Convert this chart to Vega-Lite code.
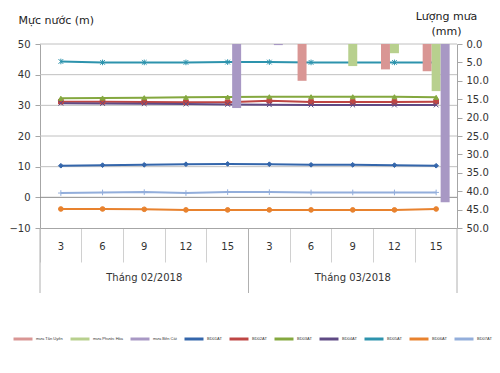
{
  "$schema": "https://vega.github.io/schema/vega-lite/v6.json",
  "width": 417,
  "height": 184,
  "autosize": {"type": "none"},
  "padding": {"left": 40, "top": 44, "right": 43, "bottom": 145},
  "background": "white",
  "config": {
    "view": {"stroke": null},
    "font": "DejaVu Sans",
    "axis": {"labelColor": "#333333", "titleColor": "#222222", "domainColor": "#a6a6a6", "tickColor": "#a6a6a6", "labelFont": "DejaVu Sans", "titleFont": "DejaVu Sans"}
  },
  "datasets": {
    "level": [
      {"key": "2018-02-03", "series": "BD01AT", "value": 10.3},
      {"key": "2018-02-06", "series": "BD01AT", "value": 10.5},
      {"key": "2018-02-09", "series": "BD01AT", "value": 10.6},
      {"key": "2018-02-12", "series": "BD01AT", "value": 10.8},
      {"key": "2018-02-15", "series": "BD01AT", "value": 10.9},
      {"key": "2018-03-03", "series": "BD01AT", "value": 10.8},
      {"key": "2018-03-06", "series": "BD01AT", "value": 10.6},
      {"key": "2018-03-09", "series": "BD01AT", "value": 10.6},
      {"key": "2018-03-12", "series": "BD01AT", "value": 10.5},
      {"key": "2018-03-15", "series": "BD01AT", "value": 10.3},
      {"key": "2018-02-03", "series": "BD02AT", "value": 31.2},
      {"key": "2018-02-06", "series": "BD02AT", "value": 31.2},
      {"key": "2018-02-09", "series": "BD02AT", "value": 31.1},
      {"key": "2018-02-12", "series": "BD02AT", "value": 31.0},
      {"key": "2018-02-15", "series": "BD02AT", "value": 31.0},
      {"key": "2018-03-03", "series": "BD02AT", "value": 31.5},
      {"key": "2018-03-06", "series": "BD02AT", "value": 31.1},
      {"key": "2018-03-09", "series": "BD02AT", "value": 31.1},
      {"key": "2018-03-12", "series": "BD02AT", "value": 31.1},
      {"key": "2018-03-15", "series": "BD02AT", "value": 31.2},
      {"key": "2018-02-03", "series": "BD03AT", "value": 32.3},
      {"key": "2018-02-06", "series": "BD03AT", "value": 32.4},
      {"key": "2018-02-09", "series": "BD03AT", "value": 32.5},
      {"key": "2018-02-12", "series": "BD03AT", "value": 32.6},
      {"key": "2018-02-15", "series": "BD03AT", "value": 32.7},
      {"key": "2018-03-03", "series": "BD03AT", "value": 32.8},
      {"key": "2018-03-06", "series": "BD03AT", "value": 32.8},
      {"key": "2018-03-09", "series": "BD03AT", "value": 32.8},
      {"key": "2018-03-12", "series": "BD03AT", "value": 32.8},
      {"key": "2018-03-15", "series": "BD03AT", "value": 32.6},
      {"key": "2018-02-03", "series": "BD04AT", "value": 30.7},
      {"key": "2018-02-06", "series": "BD04AT", "value": 30.6},
      {"key": "2018-02-09", "series": "BD04AT", "value": 30.5},
      {"key": "2018-02-12", "series": "BD04AT", "value": 30.4},
      {"key": "2018-02-15", "series": "BD04AT", "value": 30.3},
      {"key": "2018-03-03", "series": "BD04AT", "value": 30.2},
      {"key": "2018-03-06", "series": "BD04AT", "value": 30.1},
      {"key": "2018-03-09", "series": "BD04AT", "value": 30.1},
      {"key": "2018-03-12", "series": "BD04AT", "value": 30.1},
      {"key": "2018-03-15", "series": "BD04AT", "value": 30.1},
      {"key": "2018-02-03", "series": "BD05AT", "value": 44.3},
      {"key": "2018-02-06", "series": "BD05AT", "value": 44.0},
      {"key": "2018-02-09", "series": "BD05AT", "value": 44.0},
      {"key": "2018-02-12", "series": "BD05AT", "value": 44.0},
      {"key": "2018-02-15", "series": "BD05AT", "value": 44.1},
      {"key": "2018-03-03", "series": "BD05AT", "value": 44.1},
      {"key": "2018-03-06", "series": "BD05AT", "value": 44.0},
      {"key": "2018-03-09", "series": "BD05AT", "value": 44.0},
      {"key": "2018-03-12", "series": "BD05AT", "value": 44.0},
      {"key": "2018-03-15", "series": "BD05AT", "value": 44.0},
      {"key": "2018-02-03", "series": "BD06AT", "value": -3.8},
      {"key": "2018-02-06", "series": "BD06AT", "value": -3.8},
      {"key": "2018-02-09", "series": "BD06AT", "value": -3.9},
      {"key": "2018-02-12", "series": "BD06AT", "value": -4.1},
      {"key": "2018-02-15", "series": "BD06AT", "value": -4.1},
      {"key": "2018-03-03", "series": "BD06AT", "value": -4.1},
      {"key": "2018-03-06", "series": "BD06AT", "value": -4.1},
      {"key": "2018-03-09", "series": "BD06AT", "value": -4.1},
      {"key": "2018-03-12", "series": "BD06AT", "value": -4.1},
      {"key": "2018-03-15", "series": "BD06AT", "value": -3.8},
      {"key": "2018-02-03", "series": "BD07AT", "value": 1.4},
      {"key": "2018-02-06", "series": "BD07AT", "value": 1.6},
      {"key": "2018-02-09", "series": "BD07AT", "value": 1.7},
      {"key": "2018-02-12", "series": "BD07AT", "value": 1.4},
      {"key": "2018-02-15", "series": "BD07AT", "value": 1.7},
      {"key": "2018-03-03", "series": "BD07AT", "value": 1.7},
      {"key": "2018-03-06", "series": "BD07AT", "value": 1.6},
      {"key": "2018-03-09", "series": "BD07AT", "value": 1.6},
      {"key": "2018-03-12", "series": "BD07AT", "value": 1.6},
      {"key": "2018-03-15", "series": "BD07AT", "value": 1.6}
    ],
    "rain": [
      {"key": "2018-02-15", "series": "mưa Bến Cát", "mm": 17.4},
      {"key": "2018-03-03", "series": "mưa Bến Cát", "mm": 0.3},
      {"key": "2018-03-06", "series": "mưa Tân Uyên", "mm": 10.0},
      {"key": "2018-03-09", "series": "mưa Phước Hòa", "mm": 6.0},
      {"key": "2018-03-12", "series": "mưa Tân Uyên", "mm": 6.9},
      {"key": "2018-03-12", "series": "mưa Phước Hòa", "mm": 2.5},
      {"key": "2018-03-15", "series": "mưa Tân Uyên", "mm": 7.4},
      {"key": "2018-03-15", "series": "mưa Phước Hòa", "mm": 12.8},
      {"key": "2018-03-15", "series": "mưa Bến Cát", "mm": 43.0}
    ],
    "gridLevels": [{"v": 0}, {"v": 10}, {"v": 20}, {"v": 30}, {"v": 40}, {"v": 50}],
    "edgesLeft": [{"key": "2018-02-03"}, {"key": "2018-03-03"}],
    "edgesRight": [{"key": "2018-03-15"}]
  },
  "layer": [
    {
      "layer": [
        {
          "data": {"name": "gridLevels"},
          "mark": {"type": "rule", "strokeWidth": 1},
          "encoding": {
            "y": {"field": "v", "type": "quantitative"},
            "color": {"condition": {"test": "datum.v === 0", "value": "#8c8c8c"}, "value": "#c0c0c0"}
          }
        },
        {
          "data": {"name": "level"},
          "mark": {"type": "line", "strokeWidth": 2},
          "encoding": {
            "x": {
              "field": "key", "type": "ordinal",
              "scale": {"type": "band", "paddingInner": 0, "paddingOuter": 0},
              "axis": {
                "title": null, "orient": "bottom",
                "bandPosition": 0, "tickSize": 34, "tickColor": "#d0d0d0",
                "domainColor": "#a6a6a6",
                "labelAngle": 0, "labelFontSize": 10, "labelPadding": -21,
                "labelLineHeight": 31, "labelBaseline": "top", "labelOverlap": false,
                "labelExpr": "datum.value == '2018-02-09' ? ['9', 'Tháng 02/2018'] : datum.value == '2018-03-09' ? ['9', 'Tháng 03/2018'] : '' + toNumber(slice(datum.value, 8))"
              }
            },
            "y": {
              "field": "value", "type": "quantitative",
              "scale": {"domain": [-10, 50], "nice": false, "zero": false},
              "axis": {
                "values": [-10, 0, 10, 20, 30, 40, 50], "tickCount": 7,
                "grid": false, "labelOverlap": false,
                "tickSize": 5, "labelPadding": 5, "labelFontSize": 10,
                "title": "Mực nước (m)", "titleAngle": 0, "titleAlign": "left",
                "titleBaseline": "middle", "titleX": -22, "titleY": -24,
                "titleFontSize": 11, "titleFontWeight": "normal"
              }
            },
            "color": {
              "field": "series", "type": "nominal",
              "scale": {
                "domain": ["mưa Tân Uyên", "mưa Phước Hòa", "mưa Bến Cát", "BD01AT", "BD02AT", "BD03AT", "BD04AT", "BD05AT", "BD06AT", "BD07AT"],
                "range": ["#d99694", "#b8d08e", "#a898c4", "#3466ab", "#be4644", "#84a83f", "#5f4a84", "#2d93ad", "#e8822e", "#93aedb"]
              },
              "legend": {
                "orient": "none", "legendX": -28, "legendY": 284,
                "direction": "horizontal", "title": null,
                "symbolType": "stroke", "symbolSize": 361, "symbolStrokeWidth": 3,
                "labelFont": "Liberation Sans", "labelFontSize": 4, "labelColor": "#333333", "labelOffset": 2,
                "columnPadding": 1, "padding": 0
              }
            }
          }
        },
        {
          "data": {"name": "level"},
          "mark": {"type": "point", "filled": true, "size": 22, "strokeWidth": 1, "opacity": 1},
          "encoding": {
            "x": {"field": "key", "type": "ordinal"},
            "y": {"field": "value", "type": "quantitative", "scale": {"domain": [-10, 50], "nice": false, "zero": false}},
            "color": {"field": "series", "type": "nominal", "legend": null},
            "stroke": {"field": "series", "type": "nominal", "scale": {
                "domain": ["mưa Tân Uyên", "mưa Phước Hòa", "mưa Bến Cát", "BD01AT", "BD02AT", "BD03AT", "BD04AT", "BD05AT", "BD06AT", "BD07AT"],
                "range": ["#d99694", "#b8d08e", "#a898c4", "#3466ab", "#be4644", "#84a83f", "#5f4a84", "#2d93ad", "#e8822e", "#93aedb"]
              }, "legend": null},
            "shape": {
              "field": "series", "type": "nominal", "legend": null,
              "scale": {
                "domain": ["BD01AT", "BD02AT", "BD03AT", "BD04AT", "BD05AT", "BD06AT", "BD07AT"],
                "range": ["diamond", "square", "triangle-up", "M-1,-1L1,1M-1,1L1,-1", "M-1,-1L1,1M-1,1L1,-1M0,-1.2L0,1.2", "circle", "M-1.2,0L1.2,0M0,-1.2L0,1.2"]
              }
            }
          }
        },
        {
          "data": {"name": "edgesLeft"},
          "mark": {"type": "rule", "color": "#b0b0b0", "strokeWidth": 1},
          "encoding": {
            "x": {"field": "key", "type": "ordinal", "bandPosition": 0},
            "y": {"datum": -10, "type": "quantitative"},
            "y2": {"datum": -31.2}
          }
        },
        {
          "data": {"name": "edgesRight"},
          "mark": {"type": "rule", "color": "#b0b0b0", "strokeWidth": 1},
          "encoding": {
            "x": {"field": "key", "type": "ordinal", "bandPosition": 1},
            "y": {"datum": -10, "type": "quantitative"},
            "y2": {"datum": -31.2}
          }
        }
      ]
    },
    {
      "data": {"name": "rain"},
      "mark": {"type": "bar"},
      "encoding": {
        "x": {"field": "key", "type": "ordinal"},
        "xOffset": {
          "field": "series", "type": "nominal",
          "scale": {"domain": ["mưa Tân Uyên", "mưa Phước Hòa", "mưa Bến Cát"], "paddingInner": 0, "paddingOuter": 0.82}
        },
        "y": {
          "field": "mm", "type": "quantitative", "stack": null,
          "scale": {"domain": [0, 50], "reverse": true, "nice": false},
          "axis": {
            "orient": "right", "values": [0, 5, 10, 15, 20, 25, 30, 35, 40, 45, 50], "tickCount": 11,
            "format": ".1f", "grid": false, "tickSize": 5, "labelPadding": 4, "labelFontSize": 10, "labelOverlap": false,
            "title": ["Lượng mưa", "(mm)"], "titleAngle": 0, "titleAlign": "center",
            "titleBaseline": "top", "titleX": -11, "titleY": -34, "titleLineHeight": 15,
            "titleFontSize": 11, "titleFontWeight": "normal"
          }
        },
        "color": {"field": "series", "type": "nominal", "legend": null}
      }
    }
  ],
  "resolve": {"scale": {"y": "independent"}}
}
